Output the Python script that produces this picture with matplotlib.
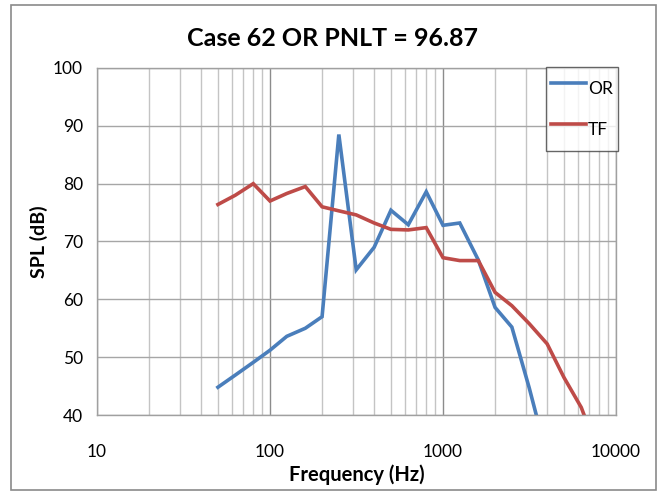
import matplotlib
matplotlib.use("Agg")
import matplotlib.pyplot as plt
from matplotlib.patches import Rectangle
from matplotlib.ticker import LogLocator, NullFormatter, FixedLocator, FixedFormatter

plt.rcParams['font.family'] = ['Lato', 'DejaVu Sans']

# One-third octave band centre frequencies (Hz)
freq_or = [50, 63, 80, 100, 125, 160, 200, 250, 315, 400, 500, 630, 800,
           1000, 1250, 1600, 2000, 2500, 3150, 4000]
spl_or = [44.8, 46.9, 49.1, 51.2, 53.6, 55.0, 57.0, 88.5, 65.1, 69.0, 75.4,
          72.9, 78.6, 72.8, 73.2, 66.8, 58.6, 55.2, 44.7, 32.8]

freq_tf = [50, 63, 80, 100, 125, 160, 200, 250, 315, 400, 500, 630, 800,
           1000, 1250, 1600, 2000, 2500, 3150, 4000, 5000, 6300, 8000]
spl_tf = [76.4, 78.0, 80.0, 77.0, 78.3, 79.5, 76.0, 75.3, 74.6, 73.2, 72.1,
          72.0, 72.4, 67.2, 66.7, 66.7, 61.2, 58.9, 55.8, 52.3, 46.5, 41.3, 33.0]

x_ticks = [10, 100, 1000, 10000]
x_tick_labels = ["10", "100", "1000", "10000"]
y_ticks = [40, 50, 60, 70, 80, 90, 100]

title = "Case 62 OR PNLT = 96.87"

fig = plt.figure(figsize=(6.58, 4.91), dpi=100)
ax = fig.add_axes([97 / 658, 1 - 415 / 491, (616 - 97) / 658, (415 - 68) / 491])

ax.plot(freq_or, spl_or, color="#4a7ebb", lw=2.6, label="OR", solid_joinstyle="miter")
ax.plot(freq_tf, spl_tf, color="#be4b48", lw=2.6, label="TF", solid_joinstyle="miter")

ax.set_xscale("log")
ax.set_xlim(10, 10000)
ax.set_ylim(40, 100)

ax.xaxis.set_major_locator(FixedLocator(x_ticks))
ax.xaxis.set_major_formatter(FixedFormatter(x_tick_labels))
ax.xaxis.set_minor_locator(LogLocator(base=10, subs=range(2, 10)))
ax.xaxis.set_minor_formatter(NullFormatter())
ax.set_yticks(y_ticks)

ax.grid(True, which="major", axis="x", color="#8c8c8c", lw=1.0)
ax.grid(True, which="minor", axis="x", color="#c4c4c4", lw=1.0)
ax.grid(True, which="major", axis="y", color="#a6a6a6", lw=1.0)
ax.set_axisbelow(True)

for side in ["top", "right", "bottom", "left"]:
    ax.spines[side].set_color("#a0a0a0")
    ax.spines[side].set_linewidth(1.0)

ax.tick_params(axis="both", which="both", length=0, labelsize=12.5, colors="black")
ax.tick_params(axis="x", pad=21)
ax.tick_params(axis="y", pad=10)

ax.set_xlabel("Frequency (Hz)", fontsize=14.5, fontweight="bold", labelpad=3)
ax.set_ylabel("SPL (dB)", fontsize=14, fontweight="bold", labelpad=4)
fig.text(333 / 658, 1 - 38 / 491, title, ha="center", va="center",
         fontsize=18, fontweight="bold")

leg = ax.legend(loc="upper right", bbox_to_anchor=(618 / 658, 1 - 67 / 491),
                bbox_transform=fig.transFigure, frameon=True, fancybox=False,
                fontsize=12.5, handlelength=2.0, handleheight=2.5,
                handletextpad=0.1, labelspacing=0.5, borderpad=0.3,
                borderaxespad=0)
leg.get_frame().set_edgecolor("#404040")
leg.get_frame().set_linewidth(1.0)

fig.patches.append(Rectangle((11 / 658, 1 - 490 / 491), (656 - 11) / 658, (490 - 5) / 491,
                             transform=fig.transFigure, fill=False,
                             edgecolor="#8a8a8a", lw=1.2))

fig.savefig("out.png", dpi=100)
